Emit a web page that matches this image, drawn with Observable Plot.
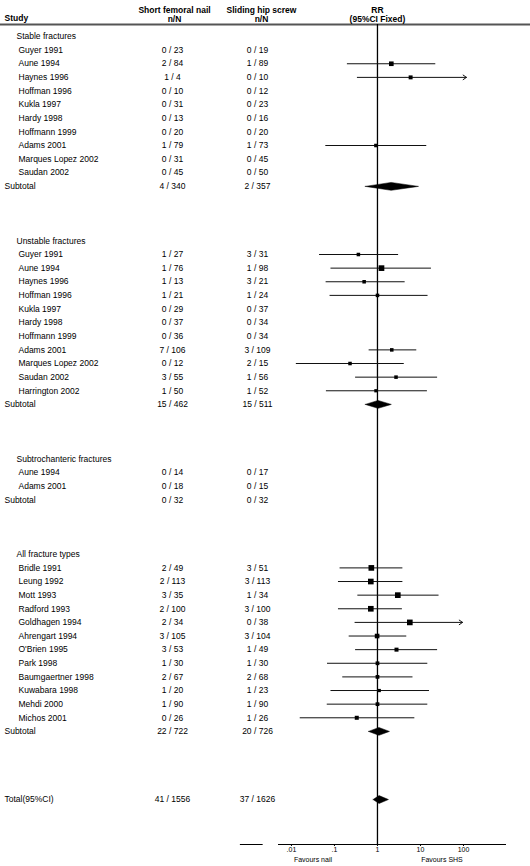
<!DOCTYPE html>
<html><head><meta charset="utf-8">
<script src="https://cdn.jsdelivr.net/npm/d3@7"></script>
<script src="https://cdn.jsdelivr.net/npm/@observablehq/plot@0.6"></script>
<style>body{margin:0;background:#fff} #chart svg{display:block}</style>
</head><body><div id="chart"></div>
<script>
// ---------- DATA ----------
const groupNames = ["Stable fractures", "Unstable fractures", "Subtrochanteric fractures", "All fracture types"];

const stableStudies = ["Guyer 1991","Aune 1994","Haynes 1996","Hoffman 1996","Kukla 1997","Hardy 1998","Hoffmann 1999","Adams 2001","Marques Lopez 2002","Saudan 2002"];
const stableNail = ["0 / 23","2 / 84","1 / 4","0 / 10","0 / 31","0 / 13","0 / 20","1 / 79","0 / 31","0 / 45"];
const stableSHS  = ["0 / 19","1 / 89","0 / 10","0 / 12","0 / 23","0 / 16","0 / 20","1 / 73","0 / 45","0 / 50"];
const stableRR   = [null, 2.1, 5.9, null, null, null, null, 0.92, null, null];
const stableLo   = [null, 0.20, 0.34, null, null, null, null, 0.063, null, null];
const stableHi   = [null, 22.7, 117, null, null, null, null, 14, null, null];
const stableWeight = [0, 5.3, 3.9, 0, 0, 0, 0, 3.1, 0, 0];
const stableOpen = [false, false, true, false, false, false, false, false, false, false];

const unstableStudies = ["Guyer 1991","Aune 1994","Haynes 1996","Hoffman 1996","Kukla 1997","Hardy 1998","Hoffmann 1999","Adams 2001","Marques Lopez 2002","Saudan 2002","Harrington 2002"];
const unstableNail = ["1 / 27","1 / 76","1 / 13","1 / 21","0 / 29","0 / 37","0 / 36","7 / 106","0 / 12","3 / 55","1 / 50"];
const unstableSHS  = ["3 / 31","1 / 98","3 / 21","1 / 24","0 / 37","0 / 34","0 / 34","3 / 109","2 / 15","1 / 56","1 / 52"];
const unstableRR   = [0.36, 1.24, 0.49, 1.0, null, null, null, 2.15, 0.23, 2.7, 0.92];
const unstableLo   = [0.045, 0.083, 0.064, 0.079, null, null, null, 0.64, 0.013, 0.31, 0.065];
const unstableHi   = [3.1, 18, 4.4, 15, null, null, null, 8.2, 4.2, 25, 14.5];
const unstableWeight = [3.1, 8, 3.1, 3.1, 0, 0, 0, 3.1, 3.1, 3.1, 2.6];
const unstableOpen = [false, false, false, false, false, false, false, false, false, false, false];

const subtroStudies = ["Aune 1994","Adams 2001"];
const subtroNail = ["0 / 14","0 / 18"];
const subtroSHS  = ["0 / 17","0 / 15"];
const subtroRR   = [null, null];
const subtroLo   = [null, null];
const subtroHi   = [null, null];
const subtroWeight = [0, 0];
const subtroOpen = [false, false];

const allStudies = ["Bridle 1991","Leung 1992","Mott 1993","Radford 1993","Goldhagen 1994","Ahrengart 1994","O'Brien 1995","Park 1998","Baumgaertner 1998","Kuwabara 1998","Mehdi 2000","Michos 2001"];
const allNail = ["2 / 49","2 / 113","3 / 35","2 / 100","2 / 34","3 / 105","3 / 53","1 / 30","2 / 67","1 / 20","1 / 90","0 / 26"];
const allSHS  = ["3 / 51","3 / 113","1 / 34","3 / 100","0 / 38","3 / 104","1 / 49","1 / 30","2 / 68","1 / 23","1 / 90","1 / 26"];
const allRR   = [0.72, 0.70, 2.97, 0.70, 5.65, 0.98, 2.77, 1.0, 1.0, 1.1, 1.0, 0.33];
const allLo   = [0.135, 0.124, 0.35, 0.124, 0.30, 0.22, 0.31, 0.069, 0.156, 0.083, 0.068, 0.016];
const allHi   = [3.9, 3.9, 27, 3.8, 95, 4.8, 25, 14.8, 6.7, 16.2, 14.8, 7.4];
const allWeight = [8, 8, 8, 8, 8, 5.3, 4, 3.5, 3.5, 2.6, 3.5, 4];
const allOpen = [false, false, false, false, true, false, false, false, false, false, false, false];

const subtotalNail = ["4 / 340", "15 / 462", "0 / 32", "22 / 722"];
const subtotalSHS  = ["2 / 357", "15 / 511", "0 / 32", "20 / 726"];
const subtotalRR   = [2.08, 1.03, null, 1.08];
const subtotalLo   = [0.52, 0.52, null, 0.62];
const subtotalHi   = [9.0, 2.1, null, 1.9];

const totalLabel = "Total(95%CI)";
const totalNail = "41 / 1556";
const totalSHS  = "37 / 1626";
const totalRR = 1.09, totalLo = 0.79, totalHi = 1.8;

const tickValues = [0.01, 0.1, 1, 10, 100];
const tickLabels = [".01", ".1", "1", "10", "100"];
const favourLabels = ["Favours nail", "Favours SHS"];
const favourAt = [0.0316, 31.6];

// ---------- BUILD TABLE ----------
const groupsData = [
  [stableStudies, stableNail, stableSHS, stableRR, stableLo, stableHi, stableWeight, stableOpen],
  [unstableStudies, unstableNail, unstableSHS, unstableRR, unstableLo, unstableHi, unstableWeight, unstableOpen],
  [subtroStudies, subtroNail, subtroSHS, subtroRR, subtroLo, subtroHi, subtroWeight, subtroOpen],
  [allStudies, allNail, allSHS, allRR, allLo, allHi, allWeight, allOpen]
];
const headers = [], studies = [], subtotals = [];
let row = 0;
groupsData.forEach((g, gi) => {
  const [names, nail, shs, rr, lo, hi, w, open] = g;
  headers.push({row, label: groupNames[gi]});
  row++;
  names.forEach((n, i) => {
    studies.push({row, name: n, nail: nail[i], shs: shs[i], rr: rr[i], lo: lo[i], hi: hi[i], weight: w[i], open: open[i]});
    row++;
  });
  subtotals.push({row, label: "Subtotal", nail: subtotalNail[gi], shs: subtotalSHS[gi], rr: subtotalRR[gi], lo: subtotalLo[gi], hi: subtotalHi[gi]});
  row += 4;
});
row += 1;
const totals = [{row, label: totalLabel, nail: totalNail, shs: totalSHS, rr: totalRR, lo: totalLo, hi: totalHi}];
const axisRow = row + 3.3;

const pooled = subtotals.concat(totals).filter(d => d.rr != null);
const halfH = 0.29;
const diamonds = pooled.flatMap((d, i) => [
  {id: i, x: d.lo, y: d.row}, {id: i, x: d.rr, y: d.row - halfH},
  {id: i, x: d.hi, y: d.row}, {id: i, x: d.rr, y: d.row + halfH}, {id: i, x: d.lo, y: d.row}
]);
const est = studies.filter(d => d.rr != null);
const textRows = studies.map(d => ({row: d.row, name: d.name, nail: d.nail, shs: d.shs}));
const sumRows = subtotals.concat(totals);

const font = "'Liberation Sans', Arial, Helvetica, sans-serif";
const fs = 8.5;
const ink = "#000";

const chart = Plot.plot({
  width: 530, height: 866,
  marginLeft: 0, marginRight: 0, marginTop: 24, marginBottom: 22,
  style: {fontFamily: font, fontSize: "8.5px", color: "#000", background: "#fff"},
  x: {type: "log", domain: [0.005, 1000], range: [278, 506]},
  y: {domain: [0, axisRow], range: [36, 844], axis: null},
  r: {type: "sqrt", domain: [0, 8], range: [0, 3.2]},
  marks: [
    Plot.frame({anchor: "top", stroke: "#555", strokeWidth: 1.8}),
    Plot.ruleX([1], {stroke: "#000", strokeWidth: 1.3}),
    Plot.ruleY([axisRow], {x1: 0.005, x2: 1000, stroke: "#000", strokeWidth: 1}),
    Plot.ruleY([axisRow], {x1: 0.00065, x2: 0.0022, stroke: "#000", strokeWidth: 1}),
    Plot.axisX({ticks: tickValues, tickFormat: (d) => tickLabels[tickValues.indexOf(d)], tickSize: 2, tickPadding: 1, fontSize: 7, label: null, anchor: "bottom", fill: ink, stroke: ink}),
    Plot.text(favourLabels, {x: (d, i) => favourAt[i], frameAnchor: "bottom", dy: 17, fontSize: 7, fill: ink, text: (d) => d}),
    Plot.ruleY(est.filter(d => !d.open), {y: "row", x1: "lo", x2: "hi", stroke: "#111", strokeWidth: 1}),
    Plot.arrow(est.filter(d => d.open), {x1: "lo", x2: "hi", y1: "row", y2: "row", stroke: "#111", strokeWidth: 1, headLength: 6, headAngle: 70}),
    Plot.dot(est, {x: "rr", y: "row", r: "weight", symbol: "square", fill: "#000", stroke: null}),
    Plot.line(diamonds, {x: "x", y: "y", z: "id", fill: "#000", stroke: "#000", strokeWidth: 0.5}),
    // header
    Plot.text(["Study"], {frameAnchor: "top-left", dx: 4, dy: -10, fontWeight: "bold", fontSize: fs, fill: ink, textAnchor: "start", text: d => d}),
    Plot.text(["Short femoral nail"], {frameAnchor: "top-left", dx: 174, dy: -18, fontWeight: "bold", fontSize: fs, fill: ink, textAnchor: "middle", text: d => d}),
    Plot.text(["n/N"], {frameAnchor: "top-left", dx: 174, dy: -9, fontWeight: "bold", fontSize: fs, fill: ink, textAnchor: "middle", text: d => d}),
    Plot.text(["Sliding hip screw"], {frameAnchor: "top-left", dx: 261, dy: -18, fontWeight: "bold", fontSize: fs, fill: ink, textAnchor: "middle", text: d => d}),
    Plot.text(["n/N"], {frameAnchor: "top-left", dx: 261, dy: -9, fontWeight: "bold", fontSize: fs, fill: ink, textAnchor: "middle", text: d => d}),
    Plot.text(["RR"], {x: 1, frameAnchor: "top", dy: -18, fontWeight: "bold", fontSize: fs, fill: ink, textAnchor: "middle", text: d => d}),
    Plot.text(["(95%CI Fixed)"], {x: 1, frameAnchor: "top", dy: -9, fontWeight: "bold", fontSize: fs, fill: ink, textAnchor: "middle", text: d => d}),
    // table
    Plot.text(headers, {y: "row", text: "label", frameAnchor: "left", dx: 16, textAnchor: "start", fontSize: fs, fill: ink}),
    Plot.text(textRows, {y: "row", text: "name", frameAnchor: "left", dx: 18, textAnchor: "start", fontSize: fs, fill: ink}),
    Plot.text(textRows, {y: "row", text: "nail", frameAnchor: "left", dx: 172, textAnchor: "middle", fontSize: fs, fill: ink}),
    Plot.text(textRows, {y: "row", text: "shs", frameAnchor: "left", dx: 257, textAnchor: "middle", fontSize: fs, fill: ink}),
    Plot.text(sumRows, {y: "row", text: "label", frameAnchor: "left", dx: 4, textAnchor: "start", fontSize: fs, fill: ink}),
    Plot.text(sumRows, {y: "row", text: "nail", frameAnchor: "left", dx: 172, textAnchor: "middle", fontSize: fs, fill: ink}),
    Plot.text(sumRows, {y: "row", text: "shs", frameAnchor: "left", dx: 257, textAnchor: "middle", fontSize: fs, fill: ink})
  ]
});
document.getElementById("chart").appendChild(chart);
</script>
</body></html>
